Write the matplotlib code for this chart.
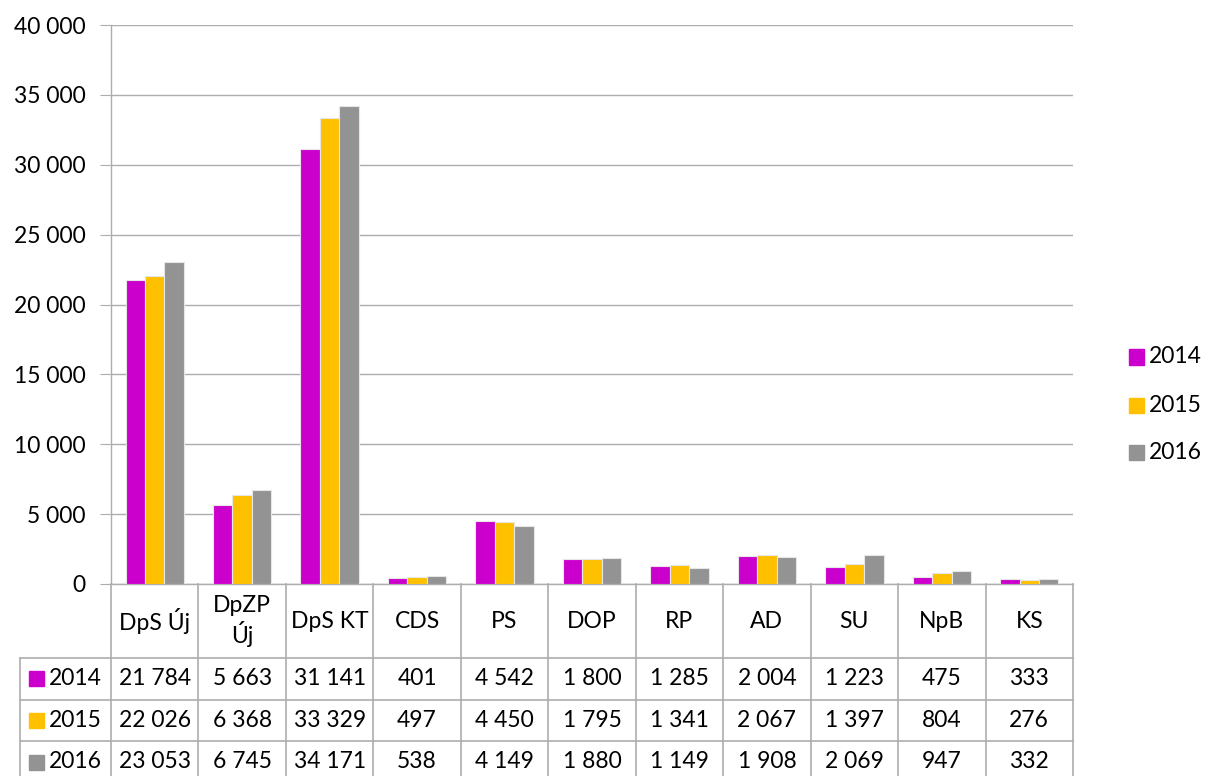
import matplotlib
matplotlib.use("Agg")
import matplotlib.pyplot as plt
from matplotlib.patches import Rectangle
import numpy as np

plt.rcParams['font.family'] = ['Lato', 'DejaVu Sans']

categories = ["DpS Új", "DpZP\nÚj", "DpS KT", "CDS", "PS", "DOP", "RP", "AD", "SU", "NpB", "KS"]
years = ["2014", "2015", "2016"]
v2014 = [21784, 5663, 31141, 401, 4542, 1800, 1285, 2004, 1223, 475, 333]
v2015 = [22026, 6368, 33329, 497, 4450, 1795, 1341, 2067, 1397, 804, 276]
v2016 = [23053, 6745, 34171, 538, 4149, 1880, 1149, 1908, 2069, 947, 332]
series = [v2014, v2015, v2016]
colors = ["#CC00CC", "#FFC000", "#939393"]
yticks = list(range(0, 40001, 5000))

W, H = 1208, 776
fig = plt.figure(figsize=(W / 100, H / 100), dpi=100)

x0, x1, ytop, ybot = 111, 1073, 25, 584
ax = fig.add_axes([x0 / W, 1 - ybot / H, (x1 - x0) / W, (ybot - ytop) / H])
n = len(categories)
x = np.arange(n)
bw = 1 / 4.5
for i, (vals, c) in enumerate(zip(series, colors)):
    ax.bar(x + (i - 1) * bw, vals, width=bw, color=c, edgecolor="#E6E6E6",
           linewidth=0.8, zorder=3)
ax.set_xlim(-0.5, n - 0.5)
ax.set_ylim(0, 40000)
ax.set_yticks(yticks)
ax.set_yticklabels([f"{t:,}".replace(",", " ") for t in yticks])
ax.set_xticks([])
ax.grid(axis="y", color="#ADADAD", linewidth=1, zorder=0)
for s in ["top", "right"]:
    ax.spines[s].set_visible(False)
for s in ["left", "bottom"]:
    ax.spines[s].set_color("#ADADAD")
    ax.spines[s].set_linewidth(1)
ax.tick_params(axis="y", length=8, color="#ADADAD", pad=10.5, labelsize=16.5,
               labelcolor="black")

# data table
tl = 20
cw = (x1 - x0) / n
xl = -0.5 - (x0 - tl) / cw
tb = 783
tax = fig.add_axes([tl / W, 1 - tb / H, (x1 - tl) / W, (tb - ybot) / H])
tax.set_xlim(xl, n - 0.5)
tax.set_ylim(tb, ybot)
tax.axis("off")
lc = "#ADADAD"
rows = [ybot, 658, 699.5, 741, tb]
for k in range(n + 1):
    tax.plot([k - 0.5, k - 0.5], [ybot, tb], color=lc, lw=1.2, clip_on=False)
tax.plot([xl, xl], [rows[1], tb], color=lc, lw=1.2, clip_on=False)
for r in rows[1:4]:
    tax.plot([xl, n - 0.5], [r, r], color=lc, lw=1.2, clip_on=False)

fs = 16.5
for k, cat in enumerate(categories):
    tax.text(k, (rows[0] + rows[1]) / 2, cat, ha="center", va="center",
             fontsize=fs, linespacing=1.25)
for j, (vals, c, yr) in enumerate(zip(series, colors, years)):
    yc = (rows[j + 1] + rows[j + 2]) / 2
    for k, v in enumerate(vals):
        tax.text(k, yc, f"{v:,}".replace(",", " "), ha="center", va="center",
                 fontsize=fs)
    # row label: marker + year
    fig.add_artist(Rectangle((29 / W, 1 - (yc + 7.5) / H), 15 / W, 15 / H,
                             transform=fig.transFigure, color=c))
    fig.text(49 / W, 1 - yc / H, yr, ha="left", va="center", fontsize=fs)

# legend
for yr, c, yc in zip(years, colors, [357, 405, 452]):
    fig.add_artist(Rectangle((1129 / W, 1 - (yc + 7.5) / H), 15 / W, 15 / H,
                             transform=fig.transFigure, color=c))
    fig.text(1149 / W, 1 - yc / H, yr, ha="left", va="center", fontsize=fs)

fig.savefig("out.png", dpi=100)
